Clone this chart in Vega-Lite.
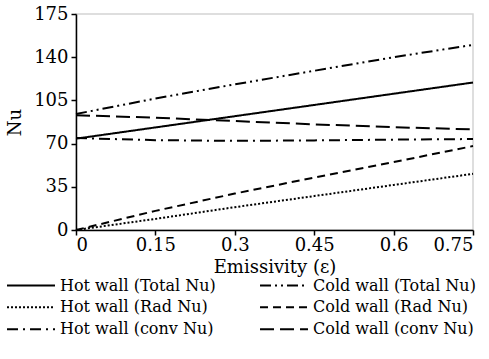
{
  "$schema": "https://vega.github.io/schema/vega-lite/v6.json",
  "width": 397,
  "height": 216,
  "autosize": {"type": "none"},
  "padding": {"left": 76, "top": 14, "right": 16, "bottom": 129},
  "background": "white",
  "config": {
    "font": "DejaVu Serif",
    "view": {"stroke": "#d4d4d4", "strokeWidth": 1.5},
    "axis": {
      "labelFont": "DejaVu Serif",
      "titleFont": "DejaVu Serif",
      "labelFontSize": 18,
      "titleFontSize": 18,
      "titleFontWeight": "normal",
      "labelColor": "black",
      "titleColor": "black",
      "domainColor": "black",
      "domainWidth": 1.5,
      "tickColor": "black",
      "tickWidth": 1.5,
      "tickSize": 5,
      "grid": false
    },
    "legend": {
      "labelFont": "DejaVu Serif",
      "labelFontSize": 16,
      "labelColor": "black",
      "labelLimit": 0
    }
  },
  "data": {
    "values": [
      {"e": 0, "Nu": 74, "series": "Hot wall (Total Nu)"},
      {"e": 0.15, "Nu": 83.1, "series": "Hot wall (Total Nu)"},
      {"e": 0.3, "Nu": 92.2, "series": "Hot wall (Total Nu)"},
      {"e": 0.45, "Nu": 101.3, "series": "Hot wall (Total Nu)"},
      {"e": 0.6, "Nu": 110.4, "series": "Hot wall (Total Nu)"},
      {"e": 0.75, "Nu": 119.5, "series": "Hot wall (Total Nu)"},
      {"e": 0, "Nu": 94, "series": "Cold wall (Total Nu)"},
      {"e": 0.15, "Nu": 106.5, "series": "Cold wall (Total Nu)"},
      {"e": 0.3, "Nu": 118, "series": "Cold wall (Total Nu)"},
      {"e": 0.45, "Nu": 129, "series": "Cold wall (Total Nu)"},
      {"e": 0.6, "Nu": 140, "series": "Cold wall (Total Nu)"},
      {"e": 0.75, "Nu": 150, "series": "Cold wall (Total Nu)"},
      {"e": 0, "Nu": 0, "series": "Hot wall (Rad Nu)"},
      {"e": 0.15, "Nu": 9, "series": "Hot wall (Rad Nu)"},
      {"e": 0.3, "Nu": 18.5, "series": "Hot wall (Rad Nu)"},
      {"e": 0.45, "Nu": 27.5, "series": "Hot wall (Rad Nu)"},
      {"e": 0.6, "Nu": 36.5, "series": "Hot wall (Rad Nu)"},
      {"e": 0.75, "Nu": 45.5, "series": "Hot wall (Rad Nu)"},
      {"e": 0, "Nu": 0, "series": "Cold wall (Rad Nu)"},
      {"e": 0.15, "Nu": 15.5, "series": "Cold wall (Rad Nu)"},
      {"e": 0.3, "Nu": 29.5, "series": "Cold wall (Rad Nu)"},
      {"e": 0.45, "Nu": 42.5, "series": "Cold wall (Rad Nu)"},
      {"e": 0.6, "Nu": 55, "series": "Cold wall (Rad Nu)"},
      {"e": 0.75, "Nu": 68, "series": "Cold wall (Rad Nu)"},
      {"e": 0, "Nu": 74.5, "series": "Hot wall (conv Nu)"},
      {"e": 0.15, "Nu": 72.8, "series": "Hot wall (conv Nu)"},
      {"e": 0.3, "Nu": 72.2, "series": "Hot wall (conv Nu)"},
      {"e": 0.45, "Nu": 72.6, "series": "Hot wall (conv Nu)"},
      {"e": 0.6, "Nu": 73.2, "series": "Hot wall (conv Nu)"},
      {"e": 0.75, "Nu": 73.7, "series": "Hot wall (conv Nu)"},
      {"e": 0, "Nu": 93, "series": "Cold wall (conv Nu)"},
      {"e": 0.15, "Nu": 91, "series": "Cold wall (conv Nu)"},
      {"e": 0.3, "Nu": 88.3, "series": "Cold wall (conv Nu)"},
      {"e": 0.45, "Nu": 85.6, "series": "Cold wall (conv Nu)"},
      {"e": 0.6, "Nu": 83.3, "series": "Cold wall (conv Nu)"},
      {"e": 0.75, "Nu": 81.5, "series": "Cold wall (conv Nu)"}
    ]
  },
  "mark": {"type": "line", "color": "black", "strokeWidth": 2},
  "encoding": {
    "x": {
      "field": "e",
      "type": "quantitative",
      "scale": {"domain": [0, 0.75], "nice": false, "zero": false},
      "axis": {
        "values": [0, 0.15, 0.3, 0.45, 0.6, 0.75],
        "labelExpr": "'' + datum.value",
        "title": "Emissivity (ε)",
        "labelPadding": 1,
        "titlePadding": 4
      }
    },
    "y": {
      "field": "Nu",
      "type": "quantitative",
      "scale": {"domain": [0, 175], "nice": false},
      "axis": {
        "values": [0, 35, 70, 105, 140, 175],
        "title": "Nu",
        "labelPadding": 3,
        "titlePadding": 9
      }
    },
    "strokeDash": {
      "field": "series",
      "type": "nominal",
      "scale": {
        "domain": [
          "Hot wall (Total Nu)",
          "Hot wall (Rad Nu)",
          "Hot wall (conv Nu)",
          "Cold wall (Total Nu)",
          "Cold wall (Rad Nu)",
          "Cold wall (conv Nu)"
        ],
        "range": [
          [1, 0],
          [2, 2],
          [11, 5, 2, 5],
          [11, 4, 2, 4, 2, 4],
          [8, 5],
          [14, 6]
        ]
      },
      "legend": {
        "title": null,
        "orient": "none",
        "legendX": -70,
        "legendY": 261,
        "columns": 2,
        "columnPadding": 43,
        "rowPadding": 1,
        "clipHeight": 20.5,
        "symbolType": "stroke",
        "symbolSize": 2300,
        "symbolStrokeWidth": 2,
        "symbolStrokeColor": "black",
        "labelOffset": 4,
        "padding": 0
      }
    }
  }
}
